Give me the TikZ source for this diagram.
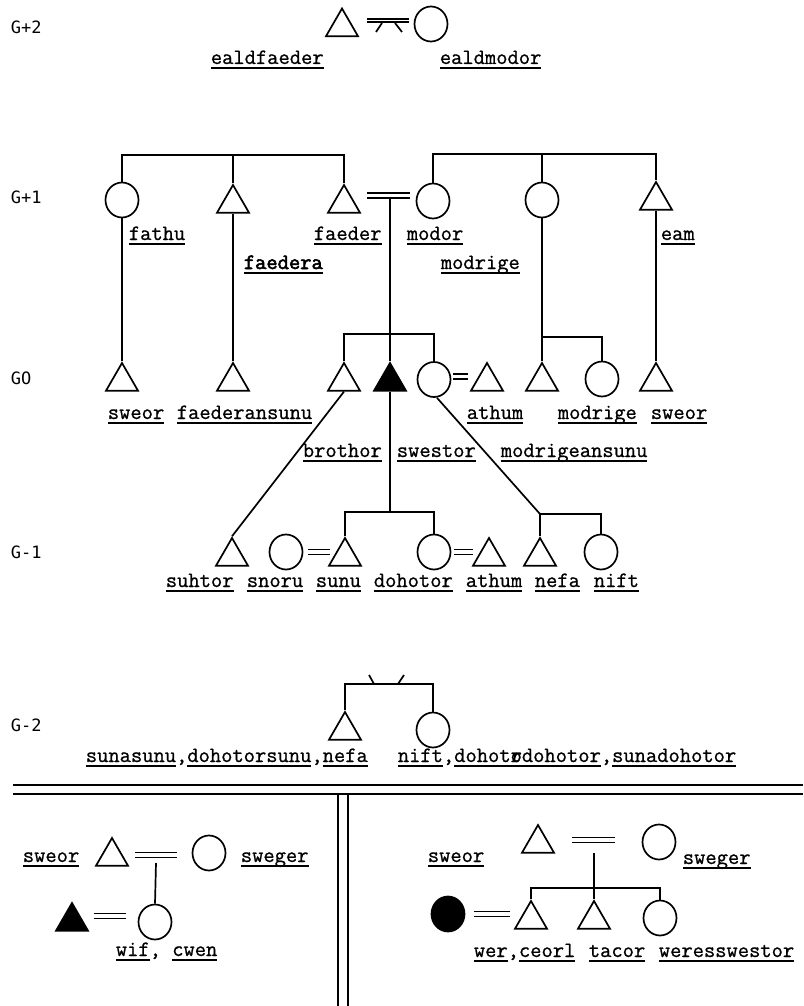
\documentclass[tikz,border=0pt]{standalone}
\usepackage{fontspec}
\usetikzlibrary{shapes.geometric}
\newfontfamily\labfont[FakeBold=0.9]{Latin Modern Mono}
\newfontfamily\labboldfont[FakeBold=2.6]{Latin Modern Mono}
\newfontfamily\genfont{DejaVu Sans Mono}
\newcommand\ulab[1]{\setbox0\hbox{#1}\rlap{\rule[-5pt]{\wd0}{1.8pt}}\box0}

\tikzset{
  male/.style={regular polygon, regular polygon sides=3, draw, minimum size=37pt, inner sep=0pt},
  female/.style={ellipse, draw, minimum width=33pt, minimum height=35pt, inner sep=0pt},
  malef/.style={male, fill=black},
  femalef/.style={female, fill=black},
  lab/.style={anchor=base west, inner sep=0pt, font=\labfont\fontsize{21.9}{24}\selectfont},
  gen/.style={anchor=west, inner sep=0pt, font=\genfont\fontsize{17}{20}\selectfont},
  marr/.style={double, double distance=3.4pt, line width=1.4pt},
}

\begin{document}
\begin{tikzpicture}[x=1pt,y=-1pt,line width=1.7pt]
    \useasboundingbox (0,0) rectangle (803,1006);

    % Generation labels
    \node[gen] (g2) at (10,27) {G+2};
    \node[gen] (g1) at (10,197) {G+1};
    \node[gen] (g0) at (10,378) {GO};
    \node[gen] (gm1) at (10,552) {G-1};
    \node[gen] (gm2) at (10,725) {G-2};

    % G+2
    \node[male] (ealdf) at (342,27) {};
    \node[female] (ealdm) at (431,24) {};
    \coordinate (m2) at (388,20.5);
    \draw[marr, double distance=1.6pt, line width=1.8pt] ([xshift=-21pt]m2) -- ([xshift=21pt]m2);
    \draw ([xshift=-6pt,yshift=-2.5pt]m2) -- ++(-6,9);
    \draw ([xshift=7pt,yshift=-2.5pt]m2) -- ++(7,9);
    \node[lab] (l-ealdf) at (210,64) {\ulab{ealdfaeder}};
    \node[lab] (l-ealdm) at (439,64) {\ulab{ealdmodor}};

    % G+1
    \node[female] (fathu) at (122,200) {};
    \node[male] (faedera) at (233,203.5) {};
    \node[male] (faeder) at (344,203.5) {};
    \node[female] (modor) at (433,201) {};
    \node[female] (modrige) at (542,200) {};
    \node[male] (eam) at (656,200.5) {};
    \coordinate (lbar) at (0,155);
    \coordinate (rbar) at (0,154);
    \draw (fathu.north) -- (fathu.north |- lbar) -| (faeder.north);
    \draw (faedera.north) -- (faedera.north |- lbar);
    \draw (modor.north) -- (modor.north |- rbar) -| (eam.north);
    \draw (modrige.north) -- (modrige.north |- rbar);
    \coordinate (m1) at (390,195.5);
    \draw[marr] ([xshift=-23pt]m1) -- ([xshift=20pt]m1);
    \node[lab] (l-fathu) at (128,240) {\ulab{fathu}};
    \node[lab] (l-faeder) at (313,240) {\ulab{faeder}};
    \node[lab] (l-modor) at (406,240) {\ulab{modor}};
    \node[lab] (l-eam) at (660,240) {\ulab{eam}};
    \node[lab, font=\labboldfont\fontsize{21.9}{24}\selectfont] (l-faedera) at (243,269) {\ulab{faedera}};
    \node[lab] (l-modrige) at (440,269) {\ulab{modrige}};

    % G0
    \node[male] (sweorf) at (122,381.5) {};
    \node[male] (fsunu) at (233,381.5) {};
    \node[male] (brothor) at (344,381.5) {};
    \node[malef] (ego) at (390,381.5) {};
    \node[female] (swestor) at (434,379.5) {};
    \node[male] (athum) at (487,381.5) {};
    \node[male] (msunu) at (542,381.5) {};
    \node[female] (mdohtor) at (602,379) {};
    \node[male] (sweorm) at (656,381.5) {};
    \draw (fathu.south) -- (sweorf.north);
    \draw (faedera.south) -- (fsunu.north);
    \draw ([yshift=-3pt]m1) -- (ego.north);
    \coordinate (gbar) at (0,334);
    \draw (brothor.north) -- (brothor.north |- gbar) -| (swestor.north);
    \draw (modrige.south) -- (msunu.north);
    \coordinate (mbar) at (0,337);
    \draw (msunu.north |- mbar) -| (mdohtor.north);
    \draw (eam.south) -- (sweorm.north);
    \draw[marr] ([xshift=2pt,yshift=3pt]swestor.east) -- ++(15,0);
    \node[lab] (l-sweorf) at (107,419) {\ulab{sweor}};
    \node[lab] (l-fsunu) at (176,419) {\ulab{faederansunu}};
    \node[lab] (l-athum) at (466,419) {\ulab{athum}};
    \node[lab] (l-mdohtor) at (557,419) {\ulab{modrige}};
    \node[lab] (l-sweorm) at (650,419) {\ulab{sweor}};
    \node[lab] (l-brothor) at (302,457) {\ulab{brothor}};
    \node[lab] (l-swestor) at (396,457) {\ulab{swestor}};
    \node[lab] (l-msunu) at (500,457) {\ulab{modrigeansunu}};

    % G-1
    \node[male] (suhtor) at (232,556.5) {};
    \node[female] (snoru) at (286,552) {};
    \node[male] (sunu) at (345,556.5) {};
    \node[female] (dohotor) at (434,552) {};
    \node[male] (athumb) at (489,556.5) {};
    \node[male] (nefa) at (540,556.5) {};
    \node[female] (nift) at (601,552) {};
    \draw (brothor.south) -- (suhtor.north);
    \coordinate (nb) at (540,514);
    \draw ([xshift=3pt]swestor.south) -- (nb);
    \draw (nefa.north) -- (nb) -| (nift.north);
    \coordinate (sbar) at (0,512);
    \draw (ego.south) -- (ego.south |- sbar);
    \draw (sunu.north) -- (sunu.north |- sbar) -| (dohotor.north);
    \draw[marr] ([xshift=5pt]snoru.east) -- ++(22,0);
    \draw[marr] ([xshift=3pt]dohotor.east) -- ++(19,0);
    \node[lab] (l-suhtor) at (165,587) {\ulab{suhtor}};
    \node[lab] (l-snoru) at (246,587) {\ulab{snoru}};
    \node[lab] (l-sunu) at (315,587) {\ulab{sunu}};
    \node[lab] (l-dohotor) at (373,587) {\ulab{dohotor}};
    \node[lab] (l-athumb) at (465,587) {\ulab{athum}};
    \node[lab] (l-nefa) at (534,587) {\ulab{nefa}};
    \node[lab] (l-nift) at (593,587) {\ulab{nift}};

    % G-2
    \node[male] (sunasunu) at (345,730.5) {};
    \node[female] (sunadohtor) at (433,730) {};
    \coordinate (g2bar) at (0,684);
    \draw (sunasunu.north) -- (sunasunu.north |- g2bar) -| (sunadohtor.north);
    \coordinate (tw) at (386,684);
    \draw ([xshift=-12pt]tw) -- ++(-5,-9);
    \draw ([xshift=12pt]tw) -- ++(6,-9);
    \node[lab] (l-sunasunu) at (85,762) {\ulab{sunasunu},\ulab{dohotorsunu},\ulab{nefa}};
    \node[lab] (l-sunadohtor) at (397,762) {\ulab{nift},\ulab{dohot\rlap{o}rdohotor},\ulab{sunadohotor}};

    % Draw frame
    \draw[line width=1.3pt] (13,785) -- (803,785);
    \draw[line width=1.3pt] (13,794) -- (803,794);
    \draw[line width=1.3pt] (338,794) -- (338,1006);
    \draw[line width=1.3pt] (348,794) -- (348,1006);

    % wife's side
    \node[male] (lsweor) at (112,856.5) {};
    \node[female] (lsweger) at (209,853) {};
    \coordinate (lm) at (156,855);
    \draw[marr] ([xshift=-21pt]lm) -- ([xshift=21pt]lm);
    \node[malef] (lego) at (72,921.5) {};
    \node[female] (wif) at (155,922) {};
    \draw ([yshift=-8pt]lm) -- (wif.north);
    \draw[marr] ([xshift=10pt,yshift=5.5pt]lego.east) -- ++(32,0);
    \node[lab] (l-lsweor) at (22,862) {\ulab{sweor}};
    \node[lab] (l-lsweger) at (240,862) {\ulab{sweger}};
    \node[lab] (l-wif) at (115,956) {\ulab{wif}, \ulab{cwen}};

    % husband's side
    \node[male] (rsweor) at (538,843.5) {};
    \node[female] (rsweger) at (659,842) {};
    \coordinate (rm) at (594,840);
    \draw[marr] ([xshift=-22pt]rm) -- ([xshift=21pt]rm);
    \node[femalef] (rego) at (448,914) {};
    \node[male] (wer) at (531,919.5) {};
    \node[male] (tacor) at (594,919.5) {};
    \node[female] (wsis) at (660,918) {};
    \coordinate (rbar2) at (0,888);
    \draw ([yshift=-13pt]rm) -- (tacor.north);
    \draw (wer.north) -- (wer.north |- rbar2) -| (wsis.north);
    \draw[marr] ([xshift=9pt]rego.east) -- ++(36,0);
    \node[lab] (l-rsweor) at (427,862) {\ulab{sweor}};
    \node[lab] (l-rsweger) at (682,864) {\ulab{sweger}};
    \node[lab] (l-wer) at (473,957) {\ulab{wer},\ulab{ceorl}};
    \node[lab] (l-tacor) at (588,957) {\ulab{tacor}};
    \node[lab] (l-wsis) at (658,957) {\ulab{weresswestor}};
\end{tikzpicture}
\end{document}
